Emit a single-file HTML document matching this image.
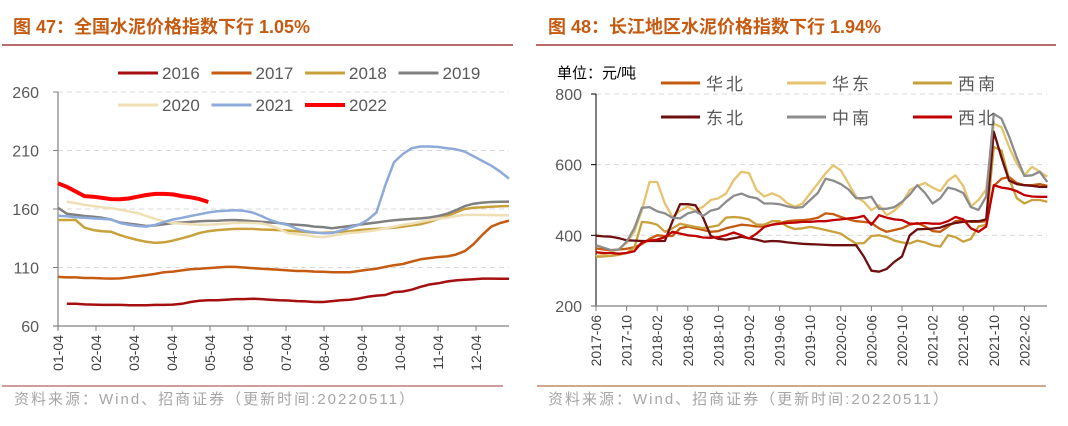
<!DOCTYPE html>
<html><head><meta charset="utf-8"><style>
body{margin:0;background:#fff;width:1068px;height:426px;overflow:hidden;font-family:"Liberation Sans","Noto Sans CJK SC",sans-serif}
svg{display:block}
</style></head><body>
<svg id="s" width="1068" height="426" xmlns="http://www.w3.org/2000/svg">
<text x="13" y="33" font-size="18" font-weight="bold" fill="#c55a11">图 47：全国水泥价格指数下行 1.05%</text>
<line x1="2" y1="45" x2="513" y2="45" stroke="#a33a3a" stroke-width="1.5"/>
<text x="548" y="33" font-size="18" font-weight="bold" fill="#c55a11">图 48：长江地区水泥价格指数下行 1.94%</text>
<line x1="536" y1="45" x2="1056" y2="45" stroke="#a33a3a" stroke-width="1.5"/>
<line x1="2" y1="386" x2="503" y2="386" stroke="#a33a3a" stroke-width="1"/>
<line x1="537" y1="386" x2="1046" y2="386" stroke="#a0521d" stroke-width="1"/>
<text x="14" y="404" font-size="15" letter-spacing="2" fill="#a6a6a6">资料来源：Wind、招商证券（更新时间:20220511）</text>
<text x="548" y="404" font-size="15" letter-spacing="2" fill="#a6a6a6">资料来源：Wind、招商证券（更新时间:20220511）</text>
<text x="557" y="78" font-size="15" fill="#000">单位：元/吨</text>
<g id="L"></g><g id="R"></g>
</svg>
<script>
// ---- Left chart data ----
const weekTicks=["01-04","02-04","03-04","04-04","05-04","06-04","07-04","08-04","09-04","10-04","11-04","12-04"];
const leftYTicks=[60,110,160,210,260];
const leftSeriesNames=["2016","2017","2018","2019","2020","2021","2022"];
const leftColors=["#a50f0f","#c55a11","#c9a13c","#808080","#eedfb4","#8eaadb","#ff0000"];
const s2016=[null,79,79,78.5,78.3,78,78,78,77.8,77.7,77.7,78,78,78.3,79,80.5,81.5,82,82,82.5,83,83,83.3,83,82.5,82,81.8,81.3,81,80.5,80.5,81.3,82,82.5,83.5,85,86,86.5,89,89.5,91,93.5,95.5,96.5,98,99,99.5,100,100.5,100.5,100.3,100.3];
const s2017=[102,101.5,101.5,101,101,100.7,100.5,100.7,101.5,102.5,103.5,104.5,106,106.5,107.5,108.5,109,109.5,110,110.5,110.5,110,109.5,109,108.5,108,107.5,107,107,106.5,106.3,106,106,106,107,108,109,110.5,112,113,115,117,118,119,119.5,121,124,130,138,145,148,150];
const s2018=[150.6,150.6,150.6,144,142,141,140.5,137.7,135.5,133.5,132,131,131.5,133,135,137,139.5,141,142,142.5,143,143,143,142.5,142.3,142,141.5,141,140.3,139.8,139.7,140,140.5,141,142,142.6,143,143.5,144,145,146,147,149,151.5,154,157,160,161,161.5,162,162.3,162.6];
const s2019=[161,156,155,154,153.4,152.5,151,148.5,147.5,146.5,145.5,146,147,148,148.5,149,149.5,149.8,150,150.3,150.6,150.2,149.5,149,148.5,148,147,146.5,146,145,144.5,143.5,144.5,145.5,146.5,147.5,148.5,149.5,150.3,151,151.5,152,152.7,154,156,159,162.5,164.5,165.5,166,166.2,166.3];
const s2020=[null,166.3,165,163.5,162.5,161.5,160.7,159.5,158,156.5,154,151.5,149.5,148,147.5,147,146.5,146.5,147,147.5,148,148.2,148,147.7,146,143,139.5,138.5,137.5,136.5,136,137,138.5,139.5,140,141,142,143.5,145,146.5,147.5,149,150.5,151.5,152.5,154,155,155,155,154.8,154.7,154.6];
const s2021=[154.3,153.8,153,152.5,152,151.5,151,148,146.5,145.5,145,146.5,149,151,152.5,154,155.5,157,158,158.5,159,158.5,157,154,150.5,148,146.3,143,141,140,139.2,139.5,141.5,144,146.5,150.6,157,180,200,207,212,213.4,213.4,213,212,211,209,205,201,197,192,186];
const s2022=[182,179,175,171,170.5,169.5,168.5,168.3,169,170.5,172,172.9,172.9,172.5,171,170,168.5,166];
const leftSeries=[s2016,s2017,s2018,s2019,s2020,s2021,s2022];
// ---- Right chart data ----
const monthTicks=["2017-06","2017-10","2018-02","2018-06","2018-10","2019-02","2019-06","2019-10","2020-02","2020-06","2020-10","2021-02","2021-06","2021-10","2022-02"];
const rightYTicks=[200,400,600,800];
const rightSeriesNames=["华北","华东","西南","东北","中南","西北"];
const rightColors=["#c55a11","#e6c36e","#c9a13c","#6e0f0f","#8c8c8c","#c00000"];
const rHuabei=[363,360,358,360,362,366,375,390,400,398,398,420,425,420,415,410,412,420,425,430,428,425,425,430,435,440,442,443,445,450,462,460,452,445,440,438,435,420,410,415,420,430,435,425,412,410,425,440,443,438,438,440,540,560,565,548,542,542,545,540];
const rHuadong=[341,345,353,362,379,410,471,551,551,490,452,470,481,470,481,500,505,518,556,580,576,528,510,519,510,491,481,490,519,547,575,598,584,547,509,495,471,485,457,470,490,528,540,548,535,525,555,570,540,482,500,530,716,706,650,603,570,594,580,566];
const rXinan=[339,340,342,345,350,365,438,436,430,410,420,433,428,424,420,424,428,450,452,450,445,430,430,440,440,425,418,420,424,420,415,410,405,390,377,378,398,400,395,385,380,377,385,380,372,368,400,395,382,390,425,430,650,640,560,505,490,500,500,495];
const rDongbei=[399,397,396,392,386,385,384,384,384,384,440,488,488,485,450,398,390,388,392,396,392,388,382,384,383,380,378,376,375,374,373,372,372,372,372,340,300,297,305,325,340,400,417,418,419,422,430,435,438,440,440,445,693,620,555,545,542,540,537,537];
const rZhongnan=[372,365,358,360,382,420,478,480,468,462,450,448,462,468,455,470,475,495,512,518,509,505,490,490,488,482,478,480,500,520,560,555,545,530,505,505,509,475,475,480,495,515,542,520,490,505,535,530,520,480,472,510,744,730,680,620,568,570,580,551];
const rXibei=[352,350,350,348,350,355,380,385,388,395,410,405,400,398,394,393,395,400,408,400,391,405,424,430,433,435,436,438,438,440,440,443,445,448,450,455,430,457,450,445,443,433,433,435,433,433,440,452,445,420,410,425,542,535,532,525,514,510,509,509];
const rightSeries=[rHuabei,rHuadong,rXinan,rDongbei,rZhongnan,rXibei];

const NS="http://www.w3.org/2000/svg";
function mk(tag,attrs,parent,txt){const e=document.createElementNS(NS,tag);for(const k in attrs)e.setAttribute(k,attrs[k]);if(txt!=null)e.textContent=txt;parent.appendChild(e);return e;}
function pathFrom(arr,fx,fy){let d="",pen=false;arr.forEach((v,i)=>{if(v==null){pen=false;return;}d+=(pen?"L":"M")+fx(i).toFixed(1)+","+fy(v).toFixed(1);pen=true;});return d;}

// Left chart
const L=document.getElementById('L');
const lx0=58,lx1=509,ly0=326,ly1=92;
const lyS=v=>ly0-(v-60)/(260-60)*(ly0-ly1);
const lxW=w=>lx0+w*(lx1-lx0)/51;
const lxT=i=>lx0+i*(476-lx0)/11;
leftYTicks.forEach(t=>{
  if(t>60){const g=mk('line',{x1:lx0,x2:lx1,y1:lyS(t),y2:lyS(t),stroke:'#d9d9d9','stroke-dasharray':'5,4'},L);
  
  }
  const tk=mk('line',{x1:lx0-5,x2:lx0,y1:lyS(t),y2:lyS(t),stroke:'#808080'},L);
  
  
  const tl=mk('text',{x:lx0-19,y:lyS(t)+6,'text-anchor':'end','font-size':16,fill:'#595959'},L,t);
  
  
});
const lax=mk('line',{x1:lx0,x2:lx0,y1:ly1,y2:ly0+4,stroke:'#808080','stroke-width':1.2},L);


const lbx=mk('line',{x1:lx0-5,x2:lx1,y1:ly0,y2:ly0,stroke:'#808080','stroke-width':1.2},L);


weekTicks.forEach((t,i)=>{
  const x=lxT(i);
  const tk=mk('line',{x1:x,x2:x,y1:ly0,y2:ly0+5,stroke:'#808080'},L);
  
  
  const tl=mk('text',{transform:`translate(${x+5},${ly0+9}) rotate(-90)`,'text-anchor':'end','font-size':14,fill:'#404040'},L,t);
  
  
});
leftSeries.forEach((s,k)=>{
  const p=mk('path',{d:pathFrom(s,lxW,lyS),fill:'none',stroke:leftColors[k],'stroke-width':k==6?4:2.5,'stroke-linejoin':'round'},L);
  
  
});
leftSeriesNames.forEach((n,k)=>{
  const col=k%4,row=Math.floor(k/4);
  const x=118+col*93.5,y=73+row*32;
  const g=mk('g',{},L);
  
  
  mk('line',{x1:x,x2:x+40,y1:y,y2:y,stroke:leftColors[k],'stroke-width':k==6?4:3},g);
  mk('text',{x:x+44,y:y+6,'font-size':17,fill:'#595959'},g,n);
});

// Right chart
const R=document.getElementById('R');
const rx0=596,rx1=1047,ry0=306,ry1=94;
const ryS=v=>ry0-(v-200)/(800-200)*(ry0-ry1);
const rxM=i=>rx0+i*7.65;
rightYTicks.forEach(t=>{
  if(t>200){const g=mk('line',{x1:rx0,x2:rx1,y1:ryS(t),y2:ryS(t),stroke:'#d9d9d9','stroke-dasharray':'5,4'},R);
  
  }
  const tk=mk('line',{x1:rx0-5,x2:rx0,y1:ryS(t),y2:ryS(t),stroke:'#000'},R);
  
  
  const tl=mk('text',{x:rx0-14,y:ryS(t)+6,'text-anchor':'end','font-size':16,fill:'#595959'},R,t);
  
  
});
const rax=mk('line',{x1:rx0,x2:rx0,y1:ry1,y2:ry0+4,stroke:'#000','stroke-width':1},R);


const rbx=mk('line',{x1:rx0-5,x2:rx1,y1:ry0,y2:ry0,stroke:'#808080','stroke-width':1.2},R);


monthTicks.forEach((t,i)=>{
  const x=rxM(i*4);
  const tk=mk('line',{x1:x,x2:x,y1:ry0,y2:ry0+5,stroke:'#808080'},R);
  
  
  const tl=mk('text',{transform:`translate(${x+5},${ry0+9}) rotate(-90)`,'text-anchor':'end','font-size':14,fill:'#404040'},R,t);
  
  
});
rightSeries.forEach((s,k)=>{
  const p=mk('path',{d:pathFrom(s,rxM,ryS),fill:'none',stroke:rightColors[k],'stroke-width':2.3,'stroke-linejoin':'round'},R);
  
  
});
rightSeriesNames.forEach((n,k)=>{
  const col=k%3,row=Math.floor(k/3);
  const x=661+col*126,y=83+row*34;
  const g=mk('g',{},R);
  
  
  mk('line',{x1:x,x2:x+39,y1:y,y2:y,stroke:rightColors[k],'stroke-width':3},g);
  mk('text',{x:x+45,y:y+7,'font-size':17,fill:'#595959','letter-spacing':'3'},g,n);
});
</script>
</body></html>
